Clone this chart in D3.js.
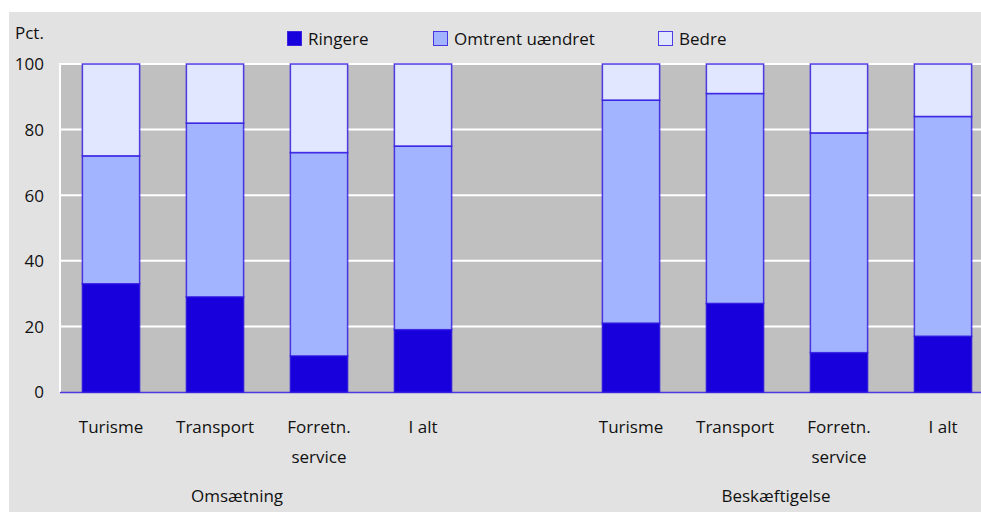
<!DOCTYPE html>
<html><head><meta charset="utf-8">
<script src="https://cdn.jsdelivr.net/npm/d3@7"></script>
<style>
html,body{margin:0;padding:0;background:#fff;}
text{font-family:"Open Sans","Noto Sans",sans-serif;fill:#111;}
</style></head>
<body><svg id="c" width="981" height="512"></svg>
<script>
const slots = ["O-Turisme","O-Transport","O-Forretn","O-Ialt","gap","B-Turisme","B-Transport","B-Forretn","B-Ialt"];
const catLabels = [["Turisme"],["Transport"],["Forretn.","service"],["I alt"],[],["Turisme"],["Transport"],["Forretn.","service"],["I alt"]];
const groups = ["Omsætning","Beskæftigelse"];
const seriesNames = ["Ringere","Omtrent uændret","Bedre"];
const ringere = [33,29,11,19,null,21,27,12,17];
const omtrent = [39,53,62,56,null,68,64,67,67];
const bedre   = [28,18,27,25,null,11,9,21,16];
const yTicks = [0,20,40,60,80,100];
const colors = ["#1800dd","#a2b4ff","#e0e7ff"];

const svg = d3.select("#c");
svg.append("rect").attr("x",9).attr("y",12).attr("width",972).attr("height",500).attr("fill","#e2e2e2");

const x = d3.scaleBand().domain(slots).range([59,995]).paddingInner(0.44).paddingOuter(0.22);
const y = d3.scaleLinear().domain([0,100]).range([392,64]);

svg.append("rect").attr("x",60).attr("y",y(100)).attr("width",981-60).attr("height",y(0)-y(100)).attr("fill","#c0c0c0");
// gridlines
svg.append("g").selectAll("line").data(yTicks.filter(d=>d>0)).join("line")
  .attr("x1",60).attr("x2",981).attr("y1",d=>y(d)).attr("y2",d=>y(d))
  .attr("stroke","#fff").attr("stroke-width",2);
svg.append("line").attr("x1",60).attr("x2",60).attr("y1",y(100)-1).attr("y2",y(0)).attr("stroke","#fff").attr("stroke-width",2);

// y axis labels
const yAxis = d3.axisLeft(y).tickValues(yTicks).tickSize(0).tickPadding(0);
const ga = svg.append("g").attr("transform","translate(44,0)").call(yAxis);
ga.select(".domain").remove();
ga.selectAll("text").attr("font-size",17).attr("font-family","'Open Sans',sans-serif").attr("fill","#111").attr("dy","0.35em");
svg.append("text").attr("x",15).attr("y",39).attr("font-size",17).text("Pct.");

// stacked bars
const data = slots.map((s,i)=>({slot:s, v:[ringere[i],omtrent[i],bedre[i]]})).filter(d=>d.v[0]!==null);
const keys = [0,1,2];
const stack = d3.stack().keys(keys).value((d,k)=>d.v[k]);
const layers = stack(data);
svg.append("g").selectAll("g").data(layers).join("g")
  .attr("fill",(d,i)=>colors[i])
  .selectAll("rect").data(d=>d).join("rect")
  .attr("x",d=>x(d.data.slot)+0.5).attr("width",x.bandwidth()-1)
  .attr("y",d=>y(d[1])).attr("height",d=>y(d[0])-y(d[1]))
  .attr("stroke","#2a10e0").attr("stroke-opacity",0.8).attr("stroke-width",1.5);

// baseline
svg.append("line").attr("x1",60).attr("x2",981).attr("y1",y(0)+0.5).attr("y2",y(0)+0.5).attr("stroke","#2a10e0").attr("stroke-opacity",0.8).attr("stroke-width",1.5);

// category labels
slots.forEach((s,i)=>{
  const cx = x(s)+x.bandwidth()/2;
  catLabels[i].forEach((t,j)=>{
    svg.append("text").attr("x",cx).attr("y",433+j*30).attr("text-anchor","middle").attr("font-size",17).text(t);
  });
});
// group labels
const g1 = x(slots[1])+x.bandwidth()/2 + 22;
const g2 = x(slots[6])+x.bandwidth()/2 + 41;
[g1,g2].forEach((cx,i)=>svg.append("text").attr("x",cx).attr("y",502).attr("text-anchor","middle").attr("font-size",17).text(groups[i]));

// legend
const legX = [287,433,658];
seriesNames.forEach((n,i)=>{
  svg.append("rect").attr("x",legX[i]+0.5).attr("y",31.5).attr("width",14).attr("height",14)
    .attr("fill",colors[i]).attr("stroke","#2a10e0").attr("stroke-opacity",0.8).attr("stroke-width",1);
  svg.append("text").attr("x",legX[i]+21).attr("y",45).attr("font-size",17).text(n);
});
</script></body></html>
